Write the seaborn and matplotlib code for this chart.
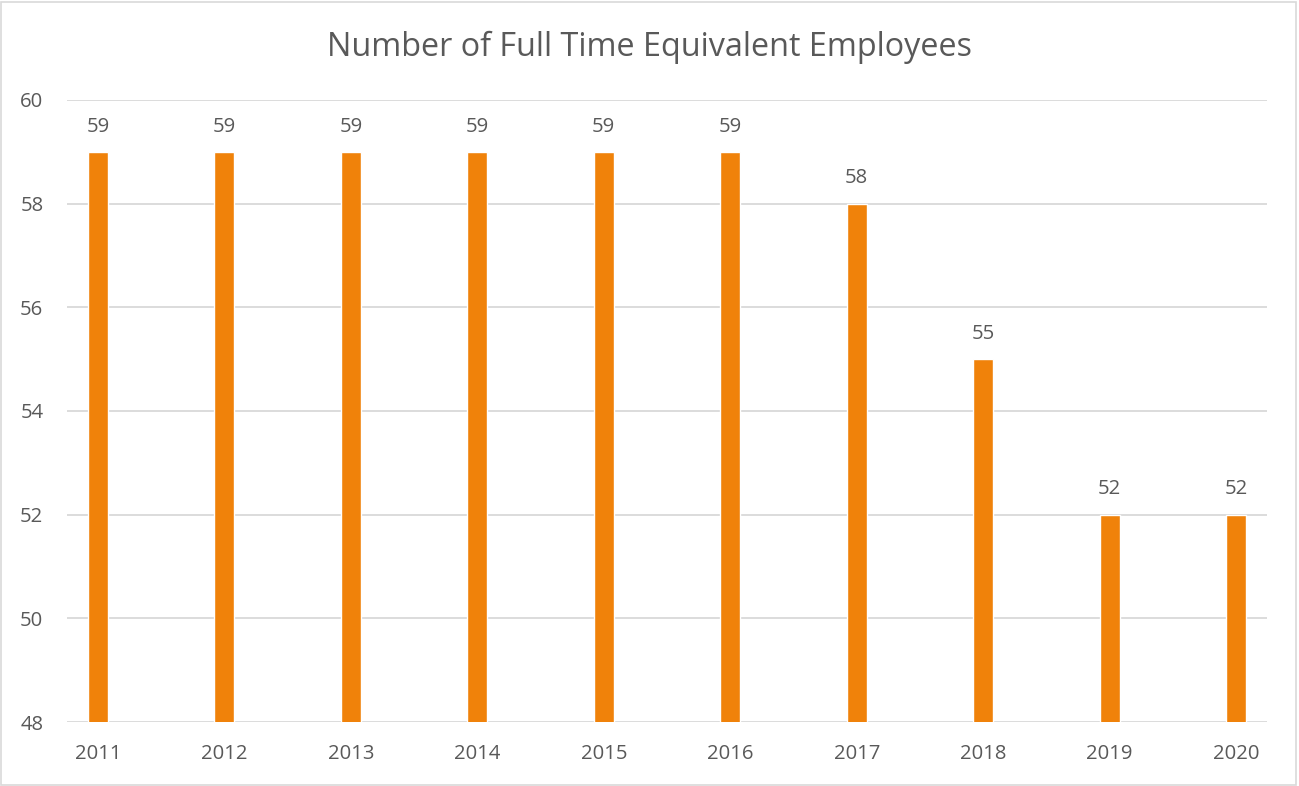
import matplotlib
matplotlib.use("Agg")
import matplotlib.pyplot as plt
import seaborn as sns
import pandas as pd

# data
years = ["2011", "2012", "2013", "2014", "2015", "2016", "2017", "2018", "2019", "2020"]
employees = [59, 59, 59, 59, 59, 59, 58, 55, 52, 52]
y_ticks = [48, 50, 52, 54, 56, 58, 60]

df = pd.DataFrame({"year": years, "fte": employees})

sns.set_style("white")
plt.rcParams["font.family"] = ["Open Sans", "DejaVu Sans"]

text_color = "#595959"
bar_color = "#F0820A"
grid_color = "#D9D9D9"

fig = plt.figure(figsize=(12.99, 7.86), dpi=100)
ax = fig.add_axes([0.0516, 0.0814, 0.9238, 0.7914])

sns.barplot(data=df, x="year", y="fte", color=bar_color, width=0.158,
            saturation=1, ax=ax, zorder=3)

ax.set_ylim(48, 60)
ax.set_xlim(-0.245, 9.245)
ax.set_yticks(y_ticks)
ax.yaxis.grid(True, color=grid_color, linewidth=1.3, zorder=0)
ax.set_axisbelow(True)
for s in ax.spines.values():
    s.set_visible(False)

ax.tick_params(axis="both", length=0, labelsize=14.6, labelcolor=text_color)
ax.tick_params(axis="y", pad=17)
ax.tick_params(axis="x", pad=16)
ax.set_xlabel("")
ax.set_ylabel("")

for i, v in enumerate(employees):
    ax.annotate(str(v), (i, v), xytext=(0, 11), textcoords="offset points",
                ha="center", va="bottom", fontsize=14.6, color=text_color)

fig.text(0.5, 0.940, "Number of Full Time Equivalent Employees", ha="center",
         va="center", fontsize=23.3, color=text_color)

# light border around the chart area, as in the original
border = plt.Rectangle((0.001, 0.001), 0.997, 0.997, transform=fig.transFigure,
                       fill=False, edgecolor=grid_color, linewidth=1.2)
fig.patches.append(border)

fig.savefig("out.png", dpi=100)
